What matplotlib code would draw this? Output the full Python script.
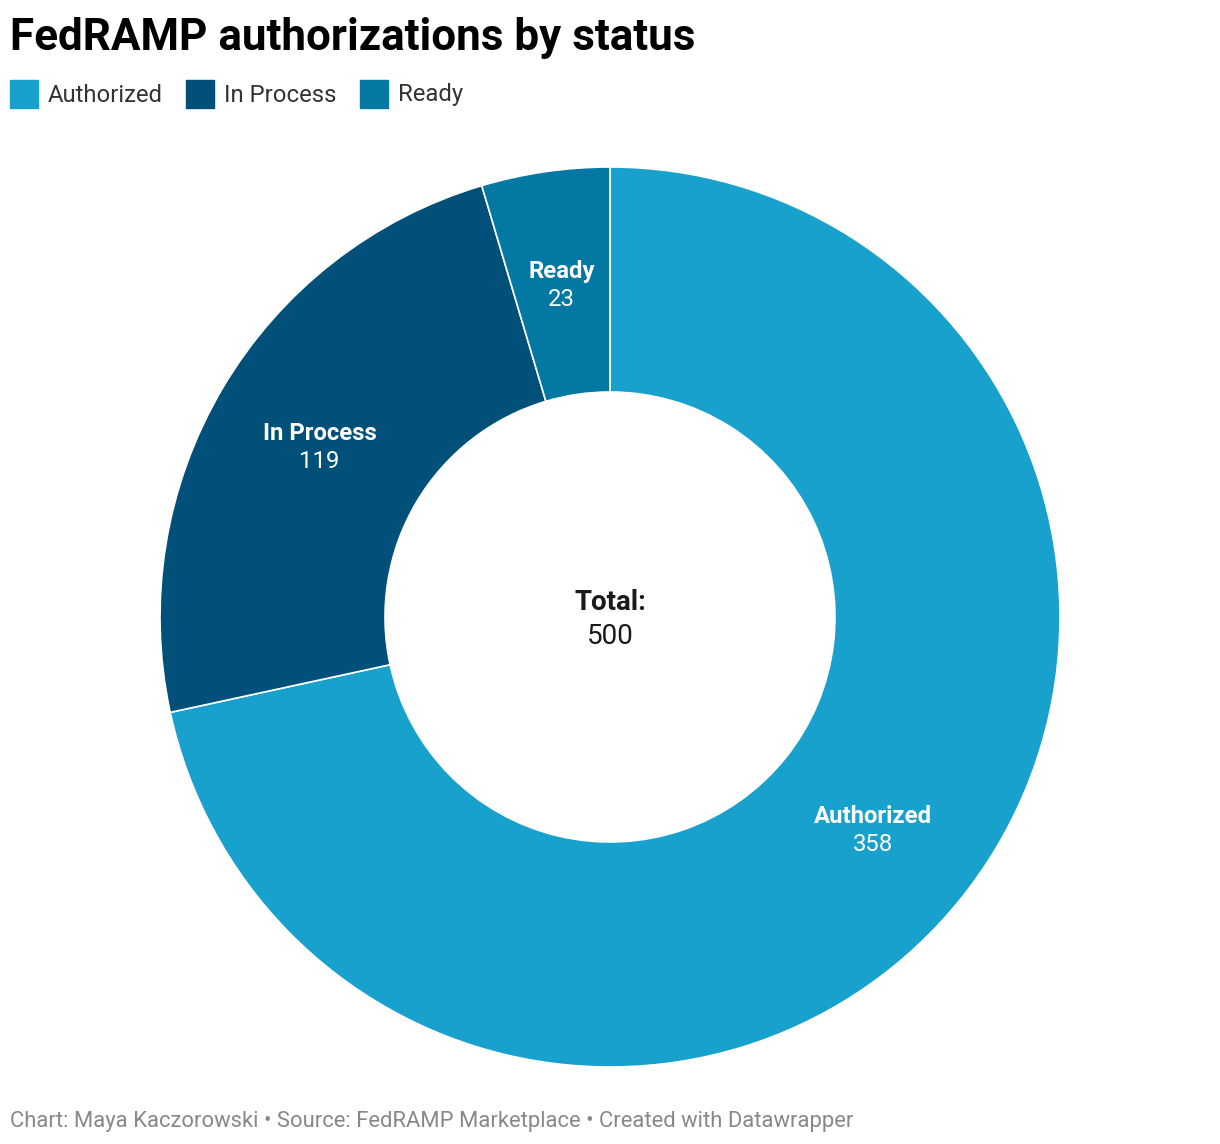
import matplotlib
matplotlib.use("Agg")
import matplotlib.pyplot as plt
import numpy as np

categories = ["Authorized", "In Process", "Ready"]
values = [358, 119, 23]
colors = ["#18a1cd", "#00507a", "#0378a3"]

plt.rcParams['font.family'] = ['Roboto', 'DejaVu Sans']

W, H = 1220, 1144
fig = plt.figure(figsize=(W/100, H/100), dpi=100)

cx, cy, R = 610, 617, 450
ax = fig.add_axes([(cx-R)/W, (H-cy-R)/H, 2*R/W, 2*R/H])
wedges, _ = ax.pie(values, colors=colors, startangle=90, counterclock=False,
                   radius=1.0, wedgeprops=dict(width=0.5, edgecolor='white', linewidth=1.2))
ax.set_xlim(-1, 1)
ax.set_ylim(-1, 1)
ax.set_aspect('equal')
ax.axis('off')

for w, cat, v in zip(wedges, categories, values):
    ang = np.deg2rad((w.theta1 + w.theta2) / 2)
    x, y = 0.75*np.cos(ang), 0.75*np.sin(ang)
    ax.text(x, y + 12/R, cat, ha='center', va='center', color='white', fontsize=17.2, fontweight='bold')
    ax.text(x, y - 16/R, str(v), ha='center', va='center', color='white', fontsize=17.2)

ax.text(0, 15/R, "Total:", ha='center', va='center', color='#1a1a1a', fontsize=20, fontweight='bold')
ax.text(0, -20/R, str(sum(values)), ha='center', va='center', color='#1a1a1a', fontsize=20)

fig.text(10/W, 1 - 38/H, "FedRAMP authorizations by status", ha='left', va='center',
         fontsize=31.7, fontweight='bold', color='black')

# legend
lx = 10
for cat, c in zip(categories, colors):
    fig.patches.append(matplotlib.patches.Rectangle((lx/W, 1 - 108/H), 28/W, 28/H,
                                                    transform=fig.transFigure, color=c))
    t = fig.text((lx + 38)/W, 1 - 95/H, cat, ha='left', va='center', fontsize=17.2, color='#333333')
    fig.canvas.draw()
    bb = t.get_window_extent()
    lx = bb.x1 + 23

fig.text(10/W, 1 - 1121/H, "Chart: Maya Kaczorowski • Source: FedRAMP Marketplace • Created with Datawrapper",
         ha='left', va='center', fontsize=15.8, color='#888888')

fig.savefig("out.png", dpi=100, facecolor='white')
